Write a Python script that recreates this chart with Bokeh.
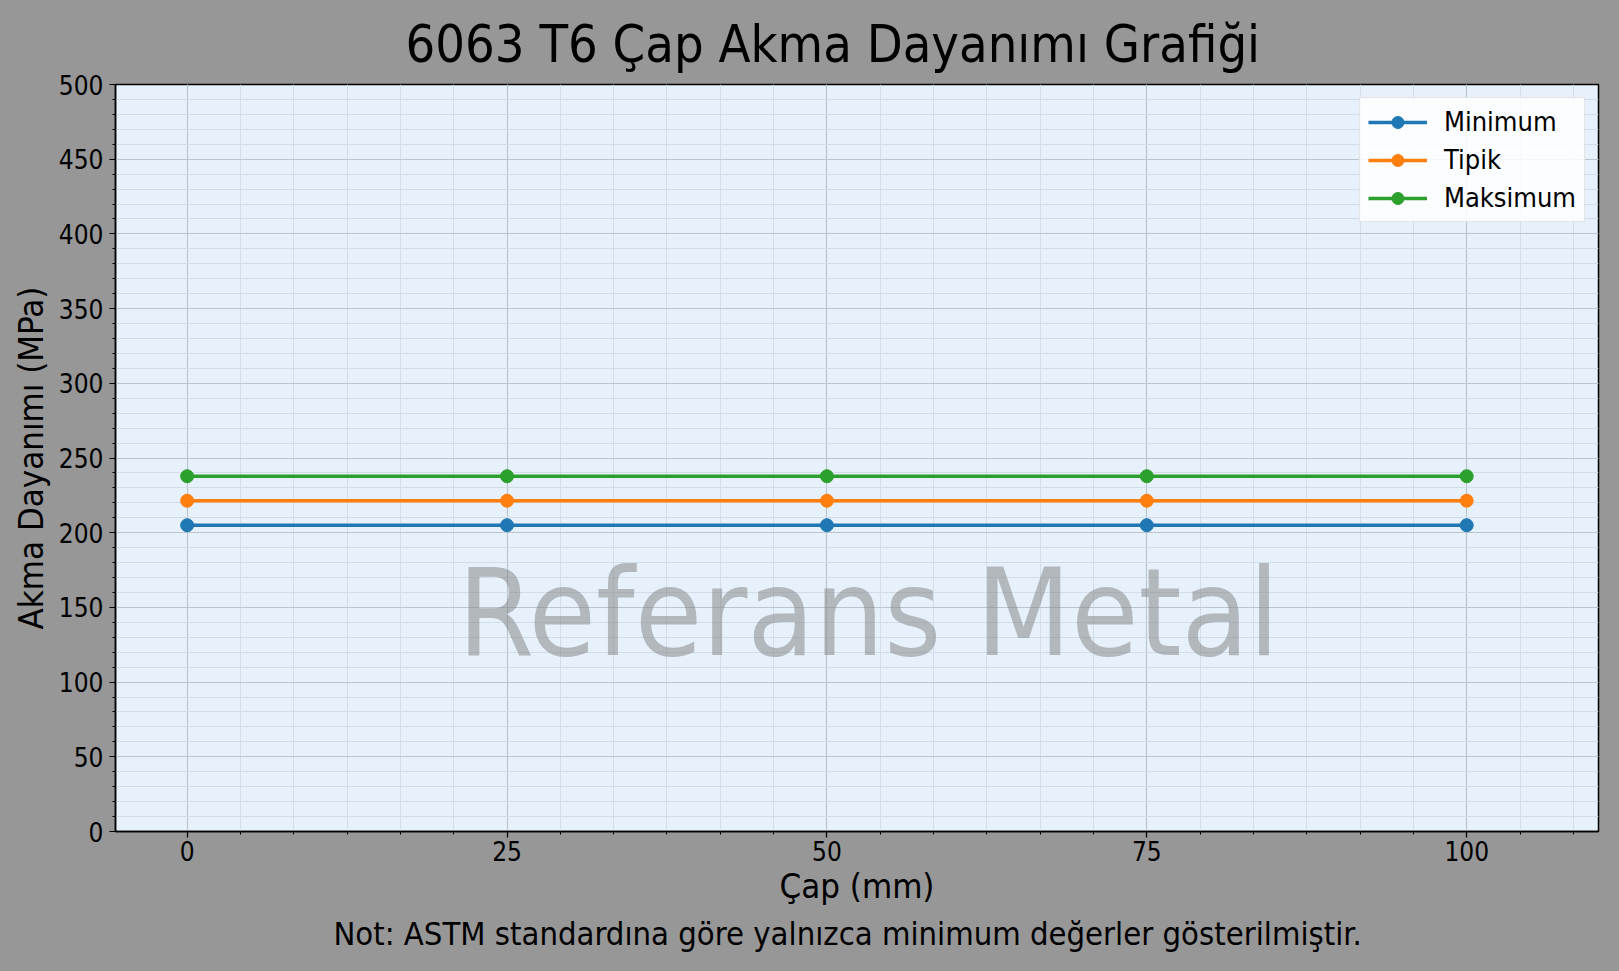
import numpy as np
from bokeh.plotting import figure
from bokeh.models import FixedTicker, Label, Title, GlobalInlineStyleSheet
from bokeh.embed import file_html
from bokeh.resources import INLINE

# ---- data ----
cap_mm = [0, 25, 50, 75, 100]
minimum = [205, 205, 205, 205, 205]
tipik = [221.4, 221.4, 221.4, 221.4, 221.4]
maksimum = [237.8, 237.8, 237.8, 237.8, 237.8]
x_major = [0, 25, 50, 75, 100]
y_major = [0, 50, 100, 150, 200, 250, 300, 350, 400, 450, 500]

title_text = "6063 T6 Çap Akma Dayanımı Grafiği"
x_label = "Çap (mm)"
y_label = "Akma Dayanımı (MPa)"
note_text = "Not: ASTM standardına göre yalnızca minimum değerler gösterilmiştir."
watermark = "Referans Metal"

FONT = "DejaVu Sans Condensed, DejaVu Sans"
BG = "#979797"
PLOT_BG = "#e7f1fb"

p = figure(width=1611, height=961, output_backend="svg", toolbar_location=None,
           x_range=(-5.6, 110.3), y_range=(0, 500),
           min_border_left=115, min_border_right=13, min_border_top=81, min_border_bottom=130)
p.stylesheets = [GlobalInlineStyleSheet(css="html, body { background: %s; }" % BG)]
p.background_fill_color = PLOT_BG
p.border_fill_color = BG
p.outline_line_color = "black"
p.outline_line_width = 1.5

# title
p.title.text = title_text
p.title.align = "left"
p.title.offset = 290
p.title.text_font = FONT
p.title.text_font_size = "52px"
p.title.text_font_style = "normal"
p.title.text_color = "black"
p.title.standoff = 22

# tickers
x_minor = [float(v) for v in np.arange(0, 110, 25 / 6)]
y_minor = list(range(0, 501, 10))
p.xaxis.ticker = FixedTicker(ticks=x_major, minor_ticks=x_minor)
p.yaxis.ticker = FixedTicker(ticks=y_major, minor_ticks=y_minor)

for ax in (p.xaxis[0], p.yaxis[0]):
    ax.axis_line_color = "black"
    ax.axis_line_width = 1.5
    ax.major_tick_line_color = "black"
    ax.major_tick_line_width = 1.2
    ax.minor_tick_line_color = "black"
    ax.major_tick_out = 6
    ax.major_tick_in = 0
    ax.minor_tick_out = 3
    ax.minor_tick_in = 0
    ax.major_label_text_font = FONT
    ax.major_label_text_font_size = "26px"
    ax.major_label_text_color = "black"
    ax.axis_label_text_font = FONT
    ax.axis_label_text_font_size = "34.5px"
    ax.axis_label_text_font_style = "normal"
    ax.axis_label_text_color = "black"

p.xaxis.major_label_standoff = 3
p.yaxis.major_label_standoff = 6
p.xaxis.axis_label = x_label
p.yaxis.axis_label = y_label
p.xaxis.axis_label_standoff = 2
p.yaxis.axis_label_standoff = 5

# grid
for g in (p.xgrid[0], p.ygrid[0]):
    g.grid_line_color = "#bcc5ce"
    g.grid_line_width = 1.2
    g.minor_grid_line_color = "#d3dde8"
    g.minor_grid_line_width = 1

# watermark
p.add_layout(Label(x=53.25, y=146.5, text=watermark, text_align="center", text_baseline="middle",
                   text_font=FONT, text_font_size="122px", text_color="gray", text_alpha=0.5))

# series
series = [("Minimum", minimum, "#1f77b4"), ("Tipik", tipik, "#ff7f0e"), ("Maksimum", maksimum, "#2ca02c")]
for name, vals, col in series:
    p.line(cap_mm, vals, line_color=col, line_width=3.5, legend_label=name)
    p.scatter(cap_mm, vals, marker="circle", size=13, fill_color=col, line_color=col, legend_label=name)

# note below
p.add_layout(Title(text=note_text, align="left", offset=218, text_font=FONT, text_font_size="32.5px",
                   text_font_style="normal", text_color="black", standoff=9), "below")

leg = p.legend[0]
leg.location = "top_right"
leg.label_text_font = FONT
leg.label_text_font_size = "27px"
leg.label_text_color = "black"
leg.glyph_width = 59
leg.glyph_height = 30
leg.label_standoff = 17
leg.spacing = 7
leg.padding = 8
leg.margin = 13
leg.border_line_color = "#cccccc"
leg.border_line_width = 1.5
leg.background_fill_color = "white"
leg.background_fill_alpha = 0.85

open("out.html", "w").write(file_html(p, INLINE))
